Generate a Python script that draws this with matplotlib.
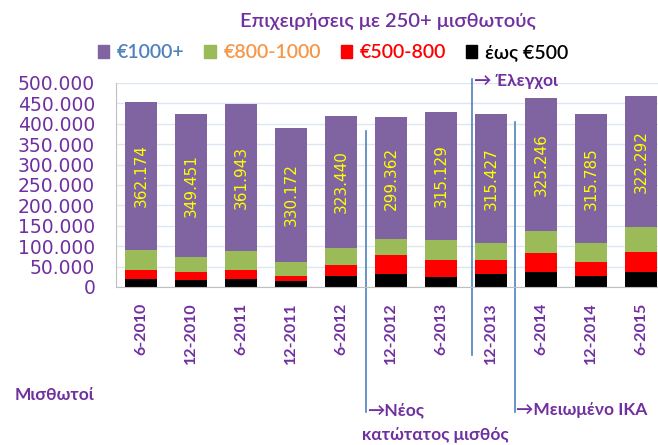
import numpy as np
import matplotlib
matplotlib.use("Agg")
import matplotlib.pyplot as plt
from matplotlib.lines import Line2D
from matplotlib.patches import Patch
from matplotlib.ticker import FuncFormatter
from matplotlib.transforms import blended_transform_factory

# data (employees)
periods = ["6-2010", "12-2010", "6-2011", "12-2011", "6-2012", "12-2012",
           "6-2013", "12-2013", "6-2014", "12-2014", "6-2015"]
under500 = [19000, 16000, 20000, 14000, 26000, 31000, 24500, 33000, 36000, 26000, 36000]
eur500_800 = [23600, 20000, 22000, 13000, 27000, 46700, 42500, 32000, 46600, 36000, 50800]
eur800_1000 = [49000, 38000, 45700, 33500, 42700, 39300, 47500, 44000, 54400, 46800, 59200]
eur1000plus = [362174, 349451, 361943, 330172, 323440, 299362, 315129, 315427, 325246, 315785, 322292]

series_names = ["€1000+", "€800-1000", "€500-800", "έως €500"]
series_colors = ["#8064A2", "#9BBB59", "#FF0000", "#000000"]
legend_text_colors = ["#4F81BD", "#F79646", "#FF0000", "#000000"]

purple = "#7030A0"
line_blue = "#4F81BD"
W, H = 658, 445

fig = plt.figure(figsize=(W / 100, H / 100), dpi=100)
ax = fig.add_axes([116 / W, (H - 287) / H, 550 / W, 204 / H])

x = np.arange(len(periods))
b0 = np.zeros(len(periods))
b1 = b0 + np.array(under500)
b2 = b1 + np.array(eur500_800)
b3 = b2 + np.array(eur800_1000)

ax.bar(x, under500, 0.64, bottom=b0, color=series_colors[3], zorder=2)
ax.bar(x, eur500_800, 0.64, bottom=b1, color=series_colors[2], zorder=2)
ax.bar(x, eur800_1000, 0.64, bottom=b2, color=series_colors[1], zorder=2)
ax.bar(x, eur1000plus, 0.64, bottom=b3, color=series_colors[0], zorder=2)

for xi, base, v in zip(x, b3, eur1000plus):
    ax.text(xi, base + v / 2, f"{v:,}".replace(",", "."), rotation=90,
            ha="center", va="center", color="#FFFF00", fontsize=11,
            family="DejaVu Sans", zorder=3)

ax.set_xlim(-0.5, len(periods) - 0.5)
ax.set_ylim(0, 500000)
ax.set_yticks(np.arange(0, 500001, 50000))
ax.yaxis.set_major_formatter(FuncFormatter(lambda v, p: f"{int(v):,}".replace(",", ".")))
ax.grid(axis="y", color="#DCE6F2", linewidth=1, zorder=0)
ax.set_axisbelow(True)
for s in ["top", "right"]:
    ax.spines[s].set_visible(False)
ax.spines["left"].set_color("#BFBFBF")
ax.spines["bottom"].set_color("#BFBFBF")

ax.set_xticks(x)
ax.set_xticklabels(periods, rotation=90, fontsize=11.5, fontweight="bold",
                   color=purple, family="Lato")
ax.tick_params(axis="x", length=0, pad=11)
ax.tick_params(axis="y", length=0, pad=15, labelsize=13.5, labelcolor=purple)

# title and legend
fig.text(388 / W, 1 - 22 / H, "Επιχειρήσεις με 250+ μισθωτούς", ha="center", va="center",
         color=purple, fontsize=14.5, fontweight="semibold", family="Lato")
handles = [Patch(color=c) for c in series_colors]
fig.legend(handles, series_names, loc="center", bbox_to_anchor=(333 / W, 1 - 53 / H),
           ncol=4, frameon=False, handlelength=0.6, handleheight=0.6,
           handletextpad=0.4, columnspacing=1.0, labelcolor=legend_text_colors,
           prop={"family": "Lato", "size": 14, "weight": "semibold"})

fig.text(15 / W, 1 - 395 / H, "Μισθωτοί", ha="left", va="center", color=purple,
         fontsize=12.5, fontweight="bold", family="Lato")

# annotation lines
tr = blended_transform_factory(ax.transData, fig.transFigure)
fam = ["Lato", "DejaVu Sans"]
ax.add_line(Line2D([4.49, 4.49], [1 - 131 / H, 1 - 412 / H], transform=tr,
                   color=line_blue, lw=1.2, clip_on=False))
ax.add_line(Line2D([6.61, 6.61], [1 - 79 / H, 1 - 355 / H], transform=tr,
                   color=line_blue, lw=1.2, clip_on=False))
ax.add_line(Line2D([7.47, 7.47], [1 - 122 / H, 1 - 412 / H], transform=tr,
                   color=line_blue, lw=1.2, clip_on=False))
fig.text(367 / W, 1 - 410 / H, "→Νέος", ha="left", va="center", color=purple,
         fontsize=12.5, fontweight="bold", family=fam)
fig.text(362 / W, 1 - 435 / H, "κατώτατος μισθός", ha="left", va="center", color=purple,
         fontsize=12.5, fontweight="bold", family=fam)
fig.text(474 / W, 1 - 81 / H, "→ Έλεγχοι", ha="left", va="center", color=purple,
         fontsize=12.5, fontweight="bold", family=fam)
fig.text(516 / W, 1 - 410 / H, "→Μειωμένο ΙΚΑ", ha="left", va="center", color=purple,
         fontsize=12.5, fontweight="bold", family=fam)

fig.savefig("out.png", dpi=100)
